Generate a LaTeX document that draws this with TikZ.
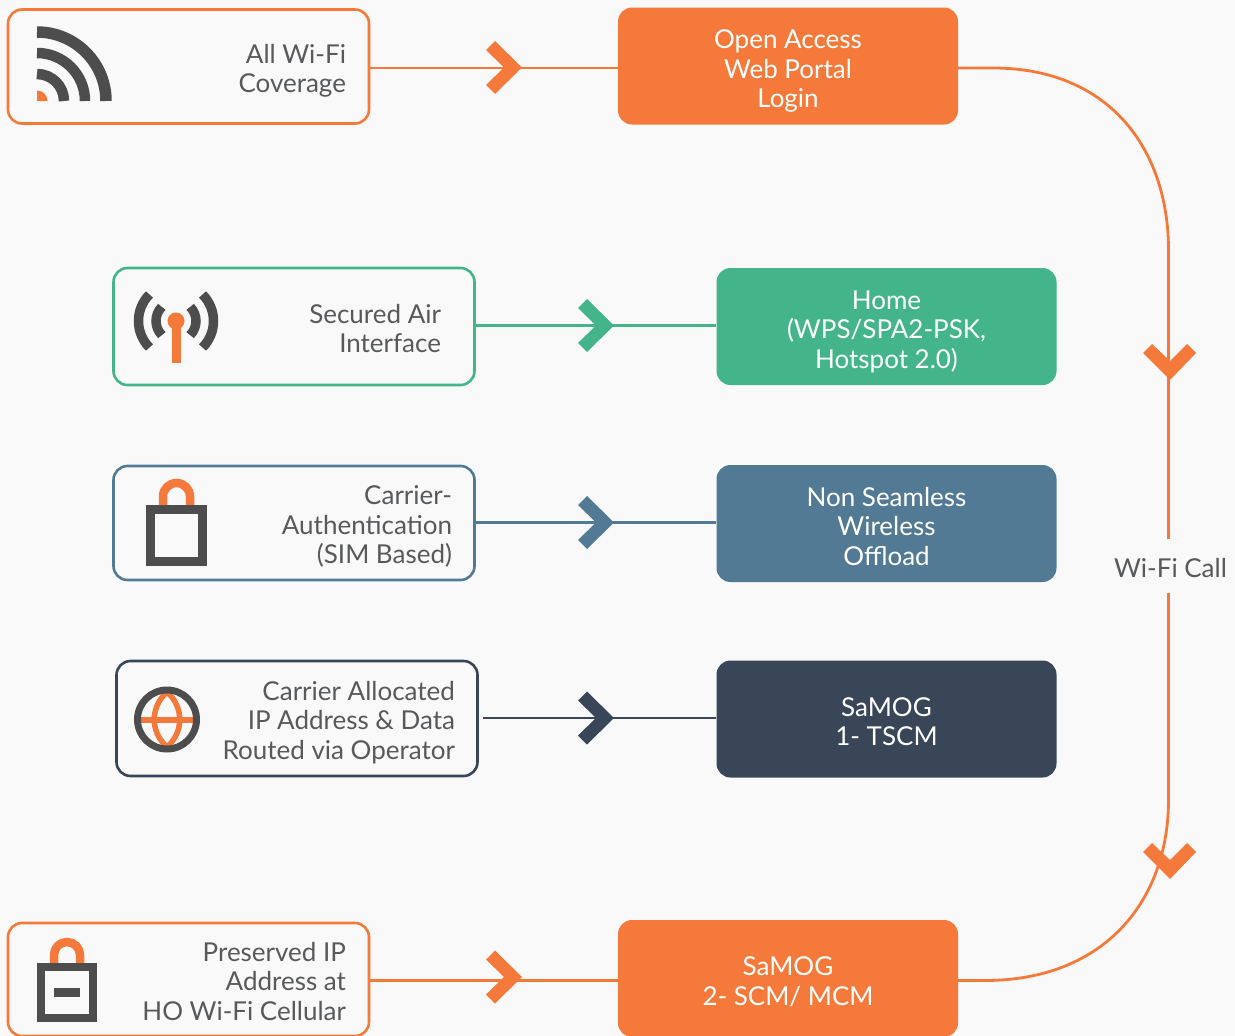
\documentclass[tikz,border=0pt]{standalone}
\usepackage{fontspec}
\setmainfont{Lato}
\definecolor{bgc}{HTML}{F9F9F9}
\definecolor{org}{HTML}{F5793A}
\definecolor{grn}{HTML}{44B58A}
\definecolor{blu}{HTML}{527A94}
\definecolor{nvy}{HTML}{384658}
\definecolor{drk}{HTML}{4D4D4D}
\definecolor{txt}{HTML}{58595B}
\tikzset{
  x=1pt,y=-1pt,
  lbl/.style={font=\fontsize{26}{29.5}\selectfont,
     execute at begin node={\spaceskip=6.6pt\relax\vrule width 0pt height #1pt\relax},
     execute at end node={\vrule width 0pt height 0pt depth 8pt\relax}},
  srcbox/.style={draw=#1,line width=2.6pt,rounded corners=14pt,minimum width=361pt,minimum height=114pt,
     text width=315pt,inner xsep=0pt,inner ysep=0pt,align=right,text=txt,lbl=30.6},
  dstbox/.style={fill=#1,rounded corners=14pt,minimum width=340pt,minimum height=117pt,
     text width=300pt,inner xsep=0pt,inner ysep=0pt,align=center,text=white,lbl=32.4},
  conn/.style={line width=2.8pt},
  flow/.style={line width=2.8pt,org},
  chevright/.pic={\fill[pic actions] (0,0) -- (-27,-26.5) -- (-36,-17.5) -- (-18,0) -- (-36,17.5) -- (-27,26.5) -- cycle;},
  chevdown/.pic={\fill[pic actions] (0,0) -- (-27,-27) -- (-18,-36) -- (0,-19) -- (17,-36) -- (26,-27) -- cycle;},
}
\begin{document}
\begin{tikzpicture}
\useasboundingbox[fill=bgc] (0,0) rectangle (1235,1036);
\begin{scope}
\clip (0,0) rectangle (1235,1036);
% source boxes
\node[srcbox=org] (a1) at (188.5,66.5) {All Wi-Fi\\Coverage};
\node[srcbox=grn,minimum height=117pt,text width=294pt] (a2) at (294,326.5) {Secured Air\\Interface};
\node[srcbox=blu,text width=316pt] (a3) at (294,523) {Carrier-\\Authentication\\(SIM Based)};
\node[srcbox=nvy,minimum height=115pt,text width=316pt] (a4) at (297,718.5) {Carrier Allocated\\IP Address \& Data\\Routed via Operator};
\node[srcbox=org,minimum height=113pt] (a5) at (188.5,979.5) {Preserved IP\\Address at\\HO Wi-Fi Cellular};
% destination boxes
\node[dstbox=org] (b1) at (788,66) {Open Access\\Web Portal\\Login};
\node[dstbox=grn] (b2) at (886.5,326.5) {Home\\(WPS/SPA2-PSK,\\Hotspot 2.0)};
\node[dstbox=blu] (b3) at (886.5,523.5) {Non Seamless\\Wireless\\Offload};
\node[dstbox=nvy] (b4) at (886.5,719) {SaMOG\\1- TSCM};
\node[dstbox=org] (b5) at (788,978.5) {SaMOG\\2- SCM/ MCM};
% label on the long connector
\node[text=txt,lbl=30.6,minimum height=54pt,minimum width=110pt,inner sep=0pt] (call) at (1170.5,566) {Wi-Fi Call};
% row levels
\coordinate (r1) at (0,68);
\coordinate (r2) at (0,325.5);
\coordinate (r3) at (0,522.5);
\coordinate (r4) at (0,718);
\coordinate (r5) at (0,980.5);
\coordinate (s4) at (483,718);
% connectors
\draw[conn,org] (a1.east|-r1) -- (b1.west|-r1);
\draw[conn,grn] (a2.east|-r2) -- (b2.west|-r2);
\draw[conn,blu] (a3.east|-r3) -- (b3.west|-r3);
\draw[conn,nvy] (s4) -- (b4.west|-r4);
\draw[conn,org] (a5.east|-r5) -- (b5.west|-r5);
\draw[flow] (b1.east|-r1) -- (993,68) .. controls (1110,68) and (1168.5,150) .. (1168.5,250) -- ([xshift=-2pt]call.north);
\draw[flow] ([xshift=-2pt]call.south) -- (1168.5,800) .. controls (1168.5,900) and (1105,980.5) .. (985,980.5) -- (b5.east|-r5);
% chevrons
\path (522,67.5) pic[fill=org] {chevright};
\path (614,325.5) pic[fill=grn] {chevright};
\path (614,522.5) pic[fill=blu] {chevright};
\path (614,718) pic[fill=nvy] {chevright};
\path (522,977) pic[fill=org] {chevright};
\path (1170,380) pic[fill=org] {chevdown};
\path (1170,879) pic[fill=org] {chevdown};
% wifi icon
\fill[org] (37,101) -- (37,90.5) arc[start angle=-90,end angle=0,radius=10.5] -- cycle;
\foreach \r/\w in {69/11.5,48/10.5,27/10.5}
  \draw[drk,line width=\w pt] (37,101-\r) arc[start angle=-90,end angle=0,radius=\r];
% antenna icon
\foreach \r in {37.5,20}{
  \draw[drk,line width=9.5pt] ({176+\r*cos(45)},{321-\r*sin(45)}) arc[start angle=-45,end angle=45,radius=\r];
  \draw[drk,line width=9.5pt] ({176-\r*cos(45)},{321-\r*sin(45)}) arc[start angle=-135,end angle=-225,radius=\r];
}
\fill[org] (171.5,321) rectangle (180.5,362.5);
\fill[org] (176,321) circle[radius=8.5];
% lock icon 1
\draw[org,line width=8.5pt] (163,506) -- (163,496.5) arc[start angle=180,end angle=360,radius=13.5] -- (190,506);
\draw[drk,line width=8.5pt] (150.5,509.5) rectangle (202.5,561.5);
% globe icon
\draw[org,line width=6pt] (141,719.5) -- (193,719.5);
\draw[org,line width=5.5pt] (167,692) .. controls (150,707) and (150,732) .. (167,747) .. controls (184,732) and (184,707) .. (167,692) -- cycle;
\draw[drk,line width=7pt] (167,719.5) circle[radius=29.5];
% lock icon 2
\draw[org,line width=8.5pt] (54,964) -- (54,955) arc[start angle=180,end angle=360,radius=13] -- (80,964);
\draw[drk,line width=8.5pt] (41.2,967.2) rectangle (92.8,1017.8);
\fill[drk] (54.4,988) rectangle (80,997);
\end{scope}
\end{tikzpicture}
\end{document}
